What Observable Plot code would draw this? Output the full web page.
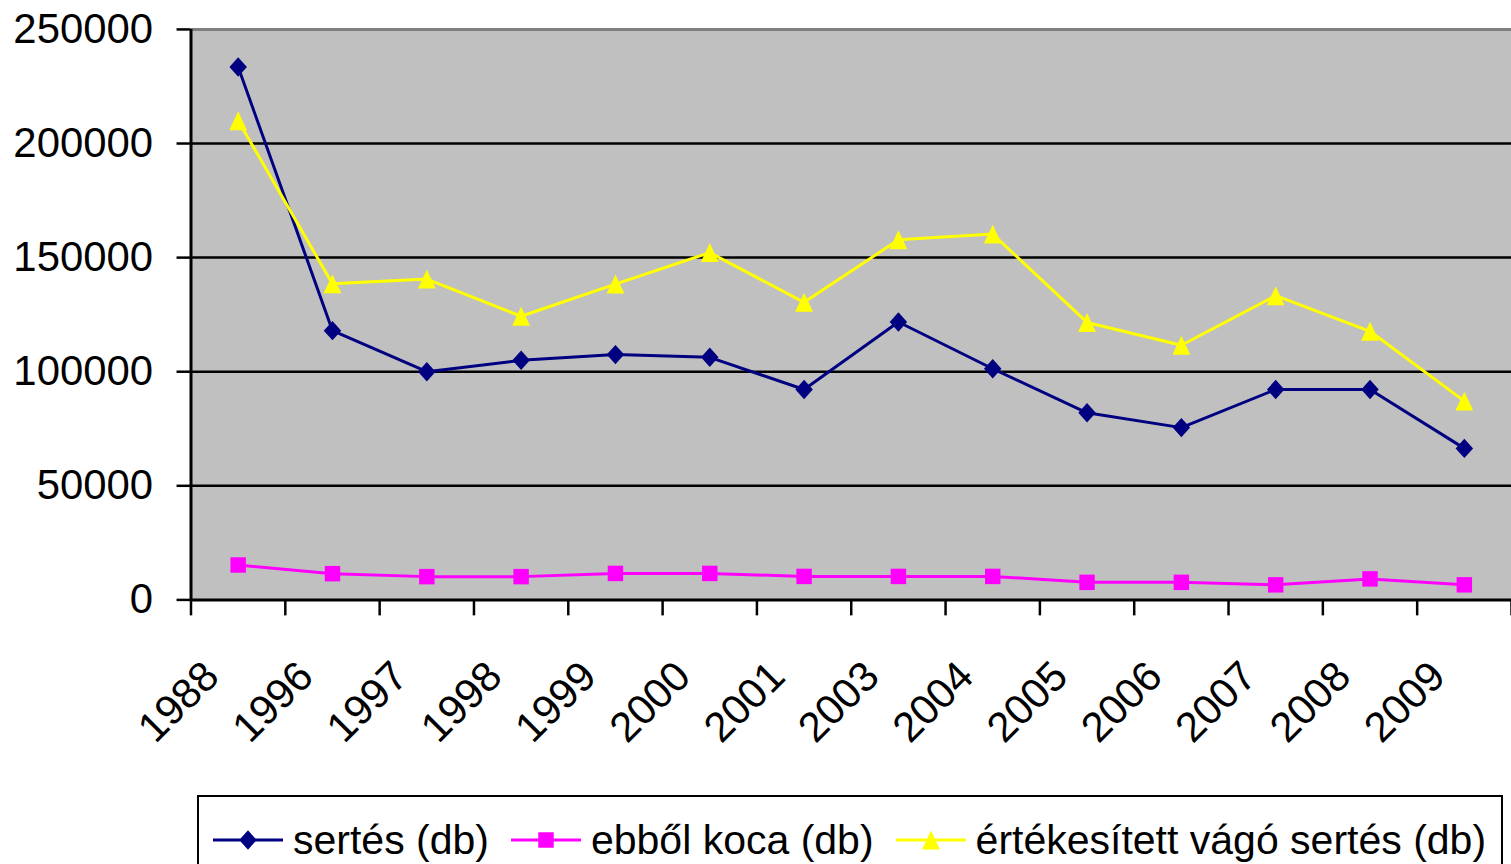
<!DOCTYPE html>
<html>
<head>
<meta charset="utf-8">
<script src="https://cdn.jsdelivr.net/npm/d3@7"></script>
<script src="https://cdn.jsdelivr.net/npm/@observablehq/plot@0.6"></script>
<style>
  html, body { margin: 0; padding: 0; background: #fff; overflow: hidden; }
  #wrap { position: relative; width: 1511px; height: 864px; overflow: hidden; font-family: "Liberation Sans", Arial, sans-serif; }
  #legend { position: absolute; left: 197px; top: 795px; width: 1306px; height: 120px; box-sizing: border-box;
            border: 2.5px solid #000; background: #fff; display: flex; align-items: flex-start; padding-left: 14px; padding-top: 19px; }
  .item { display: flex; align-items: center; height: 48px; margin-right: 22px; }
  .item svg { display: block; margin-right: 10px; }
  .item span { font-size: 41px; color: #000; white-space: nowrap; line-height: 48px; }
</style>
</head>
<body>
<div id="wrap"><div id="chart"></div><div id="legend"></div></div>
<script>
const categories = ["1988","1996","1997","1998","1999","2000","2001","2003","2004","2005","2006","2007","2008","2009"];
const sertes = [233500,118000,100000,105000,107500,106300,92200,121800,101300,82000,75500,92200,92200,66400];
const koca = [15300,11500,10200,10200,11600,11600,10300,10300,10300,7700,7700,6600,9200,6600];
const vago = [210000,138500,140600,124300,138400,152200,130400,157800,160300,121600,111600,133300,117700,87100];
const yTicks = [0,50000,100000,150000,200000,250000];
const seriesNames = ["sertés (db)","ebből koca (db)","értékesített vágó sertés (db)"];
const seriesColors = ["#000080","#FF00FF","#FFFF00"];

// custom marker shapes (Excel-like)
const diamond = { draw(ctx, size) { const s = Math.sqrt(size); const h = s / 2, w = 0.45 * s;
  ctx.moveTo(0, -h); ctx.lineTo(w, 0); ctx.lineTo(0, h); ctx.lineTo(-w, 0); ctx.closePath(); } };
const square = { draw(ctx, size) { const s = Math.sqrt(size) / 2; ctx.rect(-s, -s, 2 * s, 2 * s); } };
const triangle = { draw(ctx, size) { const s = Math.sqrt(size); const h = s / 2, w = 0.47 * s;
  ctx.moveTo(0, -h); ctx.lineTo(w, h); ctx.lineTo(-w, h); ctx.closePath(); } };
const symbols = [diamond, square, triangle];
const rs = [Math.sqrt(380 / Math.PI), Math.sqrt(240 / Math.PI), Math.sqrt(361 / Math.PI)];

const seriesValues = [sertes, koca, vago];
const rows = [];
seriesNames.forEach((name, k) => categories.forEach((c, i) => rows.push({ i, c, s: name, v: seriesValues[k][i] })));

const bounds = d3.range(categories.length + 1).map(i => i - 0.5);

const seriesMarks = seriesNames.flatMap((name, k) => [
  Plot.line(rows, { filter: d => d.s === name, x: "i", y: "v", stroke: seriesColors[k], strokeWidth: 3 }),
  Plot.dot(rows, { filter: d => d.s === name, x: "i", y: "v", symbol: symbols[k], r: rs[k], fill: seriesColors[k], stroke: "none" })
]);

const chart = Plot.plot({
  width: 1515, height: 790,
  marginLeft: 191, marginRight: 0, marginTop: 29, marginBottom: 189,
  x: { domain: [bounds[0], bounds[bounds.length - 1]], axis: null, label: null },
  y: { domain: [yTicks[0], yTicks[yTicks.length - 1]], axis: null, label: null },
  style: { fontFamily: '"Liberation Sans", Arial, sans-serif', fontSize: "42px", color: "#000", background: "#fff", overflow: "visible" },
  marks: [
    Plot.frame({ fill: "#C0C0C0", stroke: null }),
    Plot.gridY(yTicks.slice(1, -1), { stroke: "#000", strokeOpacity: 1, strokeWidth: 2.5 }),
    Plot.ruleY([yTicks[yTicks.length - 1]], { stroke: "#808080", strokeWidth: 3 }),
    Plot.axisY(yTicks, { label: null, tickSize: 14, tickPadding: 24, strokeWidth: 2.5, fontSize: 42, tickFormat: d => String(d), fill: "#000" }),
    Plot.axisX(bounds, { label: null, tickSize: 16, tickFormat: () => "", strokeWidth: 2.5 }),
    Plot.ruleX([bounds[0]], { stroke: "#000", strokeWidth: 3 }),
    Plot.ruleY([yTicks[0]], { stroke: "#000", strokeWidth: 3 }),
    Plot.text(categories, { x: (d, i) => i, text: d => d, frameAnchor: "bottom", rotate: -45, textAnchor: "end",
      lineAnchor: "bottom", dx: -17, dy: 79, fontSize: 42, fill: "#000" }),
    ...seriesMarks
  ]
});
document.getElementById("chart").appendChild(chart);

// legend
const legend = document.getElementById("legend");
seriesNames.forEach((name, k) => {
  const item = document.createElement("div");
  item.className = "item";
  const ns = "http://www.w3.org/2000/svg";
  const svg = document.createElementNS(ns, "svg");
  svg.setAttribute("width", 70); svg.setAttribute("height", 24);
  const line = document.createElementNS(ns, "line");
  line.setAttribute("x1", 0); line.setAttribute("x2", 70); line.setAttribute("y1", 12); line.setAttribute("y2", 12);
  line.setAttribute("stroke", seriesColors[k]); line.setAttribute("stroke-width", 3);
  svg.appendChild(line);
  const path = document.createElementNS(ns, "path");
  path.setAttribute("d", d3.symbol(symbols[k], Math.PI * rs[k] * rs[k])());
  path.setAttribute("transform", "translate(35,12)");
  path.setAttribute("fill", seriesColors[k]);
  svg.appendChild(path);
  item.appendChild(svg);
  const span = document.createElement("span");
  span.textContent = name;
  item.appendChild(span);
  legend.appendChild(item);
});
</script>
</body>
</html>
